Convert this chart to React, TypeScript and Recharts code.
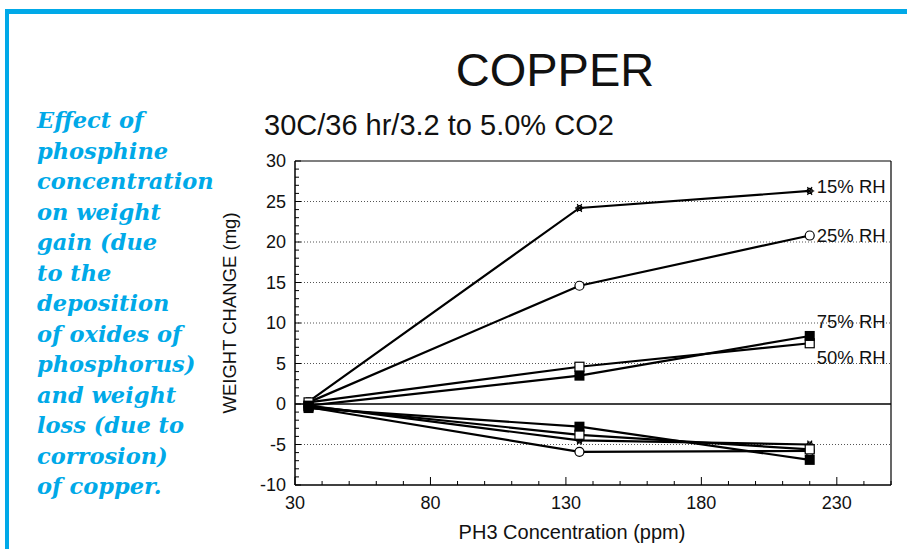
import React from "react";
import { LineChart, Line, XAxis, YAxis, ReferenceLine } from "recharts";

// PH3 concentration (ppm) at each exposure
const phConc = [35, 135, 220];

// weight gain series (mg)
const gain15 = [0.3, 24.2, 26.3];
const gain25 = [0.2, 14.6, 20.8];
const gain50 = [0.2, 4.6, 7.5];
const gain75 = [-0.2, 3.5, 8.4];

// weight loss series (mg)
const loss15 = [-0.2, -4.5, -5.0];
const loss25 = [-0.4, -5.9, -5.8];
const loss50 = [-0.3, -3.8, -5.6];
const loss75 = [-0.5, -2.8, -6.9];

const xTicks = [30, 40, 50, 60, 70, 80, 90, 100, 110, 120, 130, 140, 150, 160, 170, 180, 190, 200, 210, 220, 230, 240, 250];
const xLabelTicks = [30, 80, 130, 180, 230];
const yTicks = Array.from({ length: 41 }, (_, i) => i - 10);
const gridValues = [-5, 5, 10, 15, 20, 25];

const rhLabels = ["15% RH", "25% RH", "50% RH", "75% RH"];

const caption = [
    "Effect of",
    "phosphine",
    "concentration",
    "on weight",
    "gain (due",
    "to the",
    "deposition",
    "of oxides of",
    "phosphorus)",
    "and weight",
    "loss (due to",
    "corrosion)",
    "of copper.",
];

const data = phConc.map((x, i) => ({
    x,
    gain15: gain15[i],
    gain25: gain25[i],
    gain50: gain50[i],
    gain75: gain75[i],
    loss15: loss15[i],
    loss25: loss25[i],
    loss50: loss50[i],
    loss75: loss75[i],
}));

const SANS = "'Liberation Sans', Arial, Helvetica, sans-serif";
const BLUE = "#00a9e8";

// marker shapes
const starDot = (p: any) => {
    const { cx, cy, index } = p;
    const r = 4.5;
    return (
        <g key={`s-${index}`} stroke="#000" strokeWidth={1.2}>
            <line x1={cx - r} y1={cy} x2={cx + r} y2={cy} />
            <line x1={cx - r * 0.5} y1={cy - r * 0.87} x2={cx + r * 0.5} y2={cy + r * 0.87} />
            <line x1={cx - r * 0.5} y1={cy + r * 0.87} x2={cx + r * 0.5} y2={cy - r * 0.87} />
            <circle cx={cx} cy={cy} r={2.5} fill="none" />
        </g>
    );
};
const circleDot = (p: any) => (
    <circle key={`c-${p.index}`} cx={p.cx} cy={p.cy} r={4.5} fill="#fff" stroke="#000" strokeWidth={1.2} />
);
const openSquareDot = (p: any) => (
    <rect key={`o-${p.index}`} x={p.cx - 4.5} y={p.cy - 4.5} width={9} height={9} fill="#fff" stroke="#000" strokeWidth={1.2} />
);
const fillSquareDot = (p: any) => (
    <rect key={`f-${p.index}`} x={p.cx - 5} y={p.cy - 5} width={10} height={10} fill="#000" />
);

const endLabel = (text: string, dy: number) => (p: any) => {
    if (p.index !== phConc.length - 1) return null;
    return (
        <text key={`l-${text}`} x={p.x + 7} y={p.y + dy} fontSize={18.5} fontFamily={SANS} fill="#111" dominantBaseline="central">
            {text}
        </text>
    );
};

const XTick = (p: any) => {
    const { x, y, payload } = p;
    const major = xLabelTicks.includes(payload.value);
    return (
        <g>
            <line x1={x} y1={y} x2={x} y2={y - (major ? 8 : 4)} stroke="#000" strokeWidth={1} />
            {major && (
                <text x={x} y={y + 24} textAnchor="middle" fontSize={18} fontFamily={SANS} fill="#111">
                    {payload.value}
                </text>
            )}
        </g>
    );
};

const YTick = (p: any) => {
    const { x, y, payload } = p;
    const major = payload.value % 5 === 0;
    return (
        <g>
            <line x1={x} y1={y} x2={x + (major ? 6 : 4)} y2={y} stroke="#000" strokeWidth={1} />
            {major && (
                <text x={x - 9} y={y + 6} textAnchor="end" fontSize={18} fontFamily={SANS} fill="#111">
                    {payload.value}
                </text>
            )}
        </g>
    );
};

export default function App() {
    return (
        <div style={{ position: "absolute", left: 0, top: 0, width: 907, height: 549, background: "#fff", overflow: "hidden" }}>
            {/* blue frame */}
            <div style={{ position: "absolute", left: 5, top: 9, width: 902, height: 5, background: BLUE }} />
            <div style={{ position: "absolute", left: 5, top: 9, width: 4, height: 540, background: BLUE }} />

            <LineChart width={907} height={549} data={data} margin={{ top: 161, right: 16, bottom: 24, left: 235 }}>
                <XAxis
                    dataKey="x"
                    type="number"
                    domain={[30, 250]}
                    ticks={xTicks}
                    interval={0}
                    tick={<XTick />}
                    tickLine={false}
                    tickSize={0}
                    tickMargin={0}
                    height={40}
                    axisLine={{ stroke: "#000", strokeWidth: 1.5 }}
                    allowDataOverflow
                />
                <YAxis
                    type="number"
                    domain={[-10, 30]}
                    ticks={yTicks}
                    interval={0}
                    tick={<YTick />}
                    tickLine={false}
                    tickSize={0}
                    tickMargin={0}
                    width={60}
                    axisLine={{ stroke: "#000", strokeWidth: 1.5 }}
                    allowDataOverflow
                />
                {gridValues.map((v) => (
                    <ReferenceLine key={v} y={v} stroke="#555" strokeWidth={1} strokeDasharray="1 2" />
                ))}
                <ReferenceLine y={0} stroke="#000" strokeWidth={1.5} />
                <ReferenceLine y={30} stroke="#000" strokeWidth={1.2} />
                <ReferenceLine x={250} stroke="#000" strokeWidth={1.2} />

                <Line dataKey="loss15" stroke="#000" strokeWidth={2.2} dot={starDot} isAnimationActive={false} />
                <Line dataKey="loss25" stroke="#000" strokeWidth={2.2} dot={circleDot} isAnimationActive={false} />
                <Line dataKey="loss50" stroke="#000" strokeWidth={2.2} dot={openSquareDot} isAnimationActive={false} />
                <Line dataKey="loss75" stroke="#000" strokeWidth={2.2} dot={fillSquareDot} isAnimationActive={false} />

                <Line dataKey="gain15" stroke="#000" strokeWidth={2.2} dot={starDot} label={endLabel(rhLabels[0], -4)} isAnimationActive={false} />
                <Line dataKey="gain25" stroke="#000" strokeWidth={2.2} dot={circleDot} label={endLabel(rhLabels[1], 0)} isAnimationActive={false} />
                <Line dataKey="gain50" stroke="#000" strokeWidth={2.2} dot={openSquareDot} label={endLabel(rhLabels[2], 14)} isAnimationActive={false} />
                <Line dataKey="gain75" stroke="#000" strokeWidth={2.2} dot={fillSquareDot} label={endLabel(rhLabels[3], -14)} isAnimationActive={false} />
            </LineChart>

            {/* titles and caption */}
            <svg width={907} height={549} style={{ position: "absolute", left: 0, top: 0, pointerEvents: "none" }}>
                <text x={555} y={86} textAnchor="middle" fontSize={47} fontFamily={SANS} fill="#111">
                    COPPER
                </text>
                <text x={264} y={135} fontSize={29} fontFamily={SANS} fill="#111">
                    30C/36 hr/3.2 to 5.0% CO2
                </text>
                <text
                    transform="translate(236, 313) rotate(-90)"
                    textAnchor="middle"
                    fontSize={18.5}
                    fontFamily={SANS}
                    fill="#111"
                >
                    WEIGHT CHANGE (mg)
                </text>
                <text x={572} y={539} textAnchor="middle" fontSize={20} fontFamily={SANS} fill="#111">
                    PH3 Concentration (ppm)
                </text>
                {caption.map((line, i) => (
                    <text
                        key={line}
                        x={37}
                        y={128 + i * 30.5}
                        fontSize={22.5}
                        fontFamily="'DejaVu Serif', serif"
                        fontWeight="bold"
                        fontStyle="italic"
                        fill={BLUE}
                    >
                        {line}
                    </text>
                ))}
            </svg>
        </div>
    );
}
